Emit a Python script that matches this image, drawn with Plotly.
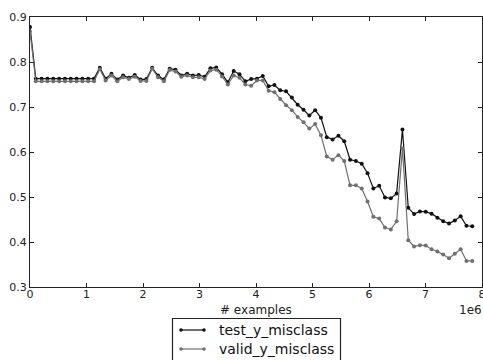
import plotly.graph_objects as go

examples = [0, 103000, 206000, 309000, 412000, 515000, 618000, 721000, 824000, 927000,
            1030000, 1133000, 1236000, 1339000, 1442000, 1545000, 1648000, 1751000, 1854000, 1957000,
            2060000, 2163000, 2266000, 2369000, 2472000, 2575000, 2678000, 2781000, 2884000, 2987000,
            3090000, 3193000, 3296000, 3399000, 3502000, 3605000, 3708000, 3811000, 3914000, 4017000,
            4120000, 4223000, 4326000, 4429000, 4532000, 4635000, 4738000, 4841000, 4944000, 5047000,
            5150000, 5253000, 5356000, 5459000, 5562000, 5665000, 5768000, 5871000, 5974000, 6077000,
            6180000, 6283000, 6386000, 6489000, 6592000, 6695000, 6798000, 6901000, 7004000, 7107000,
            7210000, 7313000, 7416000, 7519000, 7622000, 7725000, 7828000]

test_y_misclass = [0.878, 0.763, 0.763, 0.763, 0.763, 0.763, 0.763, 0.763, 0.763, 0.763,
                   0.763, 0.763, 0.787, 0.763, 0.774, 0.761, 0.770, 0.765, 0.771, 0.761,
                   0.762, 0.787, 0.770, 0.761, 0.785, 0.783, 0.770, 0.774, 0.770, 0.771,
                   0.767, 0.786, 0.788, 0.773, 0.755, 0.780, 0.773, 0.757, 0.762, 0.763,
                   0.769, 0.746, 0.749, 0.737, 0.735, 0.721, 0.705, 0.694, 0.681, 0.693,
                   0.676, 0.633, 0.628, 0.636, 0.624, 0.583, 0.580, 0.574, 0.553, 0.519,
                   0.525, 0.499, 0.497, 0.508, 0.650, 0.476, 0.462, 0.468, 0.467, 0.463,
                   0.454, 0.446, 0.441, 0.448, 0.457, 0.436, 0.435]

valid_y_misclass = [0.868, 0.757, 0.757, 0.757, 0.757, 0.757, 0.757, 0.757, 0.757, 0.757,
                    0.757, 0.757, 0.784, 0.759, 0.770, 0.757, 0.766, 0.762, 0.767, 0.758,
                    0.758, 0.785, 0.766, 0.757, 0.782, 0.779, 0.767, 0.770, 0.766, 0.766,
                    0.762, 0.781, 0.783, 0.768, 0.750, 0.770, 0.765, 0.750, 0.747, 0.759,
                    0.759, 0.736, 0.733, 0.718, 0.704, 0.693, 0.678, 0.666, 0.652, 0.662,
                    0.637, 0.590, 0.583, 0.593, 0.580, 0.526, 0.526, 0.519, 0.490, 0.456,
                    0.452, 0.432, 0.428, 0.446, 0.608, 0.404, 0.390, 0.393, 0.392, 0.384,
                    0.379, 0.372, 0.364, 0.374, 0.384, 0.358, 0.358]

series_names = ["test_y_misclass", "valid_y_misclass"]
series_colors = ["#111111", "#707070"]

x_tick_vals = [0, 1000000, 2000000, 3000000, 4000000, 5000000, 6000000, 7000000, 8000000]
x_tick_text = ["0", "1", "2", "3", "4", "5", "6", "7", "8"]
y_tick_vals = [0.3, 0.4, 0.5, 0.6, 0.7, 0.8, 0.9]

W, H = 483, 360
ML, MR, MT, MB = 30, 1, 17, 73
PW, PH = W - ML - MR, H - MT - MB


def px_x(px):
    return (px - ML) / PW


def px_y(py):
    return (H - MB - py) / PH


fig = go.Figure()
for name, color, vals in zip(series_names, series_colors, [test_y_misclass, valid_y_misclass]):
    fig.add_trace(go.Scatter(x=examples, y=vals, mode="lines+markers", name=name,
                             showlegend=False,
                             line=dict(color=color, width=1.2),
                             marker=dict(color=color, size=4)))

axis_common = dict(showline=True, linecolor="#222222", linewidth=1.3, mirror="ticks",
                   ticks="inside", ticklen=4, tickcolor="#222222", showgrid=False,
                   zeroline=False, tickfont=dict(size=11, color="#222222"),
                   ticklabeloverflow="allow")

fig.update_xaxes(range=[0, 8000000], tickvals=x_tick_vals, ticktext=x_tick_text,
                 ticklabelstandoff=-3, **axis_common)
fig.update_yaxes(range=[0.3, 0.9], tickvals=y_tick_vals, tickformat=".1f", **axis_common)

fig.add_annotation(text="# examples", xref="paper", yref="paper", x=0.5, y=px_y(310),
                   xanchor="center", yanchor="middle", showarrow=False,
                   font=dict(size=12, color="#222222"))
fig.add_annotation(text="1e6", xref="paper", yref="paper", x=px_x(470.5), y=px_y(310),
                   xanchor="center", yanchor="middle", showarrow=False,
                   font=dict(size=12, color="#222222"))

# legend drawn as a framed box below the axes (as in the reference)
fig.add_shape(type="rect", xref="paper", yref="paper",
              x0=px_x(172.5), x1=px_x(340.5), y0=px_y(370), y1=px_y(318.5),
              line=dict(color="#222222", width=1.2), fillcolor="white", layer="above")
for i, (name, color) in enumerate(zip(series_names, series_colors)):
    cy = 330 + 19 * i
    fig.add_shape(type="line", xref="paper", yref="paper",
                  x0=px_x(181), x1=px_x(204), y0=px_y(cy), y1=px_y(cy),
                  line=dict(color=color, width=1.2), layer="above")
    for cx in (181, 204):
        fig.add_shape(type="circle", xref="paper", yref="paper",
                      x0=px_x(cx - 1.8), x1=px_x(cx + 1.8),
                      y0=px_y(cy + 1.8), y1=px_y(cy - 1.8),
                      line=dict(color=color, width=0), fillcolor=color, layer="above")
    fig.add_annotation(text=name, xref="paper", yref="paper", x=px_x(217), y=px_y(cy),
                       xanchor="left", yanchor="middle", showarrow=False,
                       font=dict(size=14, color="#111111"))

fig.update_layout(
    width=W, height=H,
    margin=dict(l=ML, r=MR, t=MT, b=MB, autoexpand=False),
    paper_bgcolor="white", plot_bgcolor="white",
    font=dict(family="DejaVu Sans", color="#222222"),
    showlegend=False,
)

fig.write_html("out.html", config={"displayModeBar": False},
               post_script="document.body.style.margin='0';document.body.style.overflow='hidden';")
